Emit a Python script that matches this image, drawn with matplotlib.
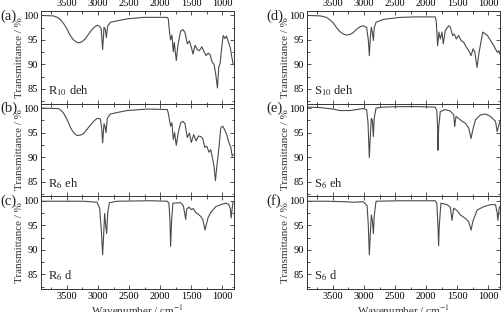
import matplotlib
matplotlib.use("Agg")
import matplotlib.pyplot as plt
from matplotlib.ticker import MultipleLocator

plt.rcParams['font.family'] = ['Liberation Serif', 'DejaVu Serif']
plt.rcParams['mathtext.fontset'] = 'stix'

# ---------------- data (wavenumber / cm-1, transmittance / %) ----------------
wn_a = [3914, 3715, 3650, 3608, 3550, 3500, 3450, 3400, 3350, 3312, 3260, 3204, 3150, 3097, 3050, 3005,
        2975, 2950, 2941, 2925, 2910, 2903, 2882, 2866, 2844, 2801, 2532, 2264, 1887, 1871, 1850, 1833,
        1812, 1790, 1774, 1742, 1715, 1672, 1635, 1602, 1565, 1532, 1500, 1473, 1441, 1403, 1371, 1333,
        1296, 1264, 1231, 1199, 1167, 1135, 1108, 1081, 1059, 1038, 1016, 989, 962, 936, 903, 876, 850, 828]
t_a = [100.0, 99.9, 99.6, 99.2, 98.3, 97.3, 96.0, 95.1, 94.6, 94.4, 94.6, 95.2, 96.2, 97.1, 97.7, 98.0,
       97.8, 97.3, 96.0, 93.0, 96.0, 97.6, 97.2, 95.5, 97.8, 98.6, 99.3, 99.6, 99.6, 99.3, 96.5, 95.0,
       96.0, 92.6, 94.5, 90.8, 94.0, 96.8, 97.1, 96.5, 94.2, 94.8, 93.5, 92.1, 93.9, 93.0, 92.8, 93.6,
       92.6, 91.8, 92.3, 92.0, 90.5, 90.0, 88.0, 85.2, 89.5, 90.2, 93.0, 95.9, 95.3, 95.8, 94.5, 93.5, 91.5, 90.0]

wn_b = [3914, 3634, 3600, 3554, 3510, 3473, 3440, 3403, 3360, 3328, 3280, 3231, 3180, 3124, 3070, 3016,
        2962, 2941, 2925, 2903, 2887, 2871, 2850, 2801, 2532, 2210, 1887, 1871, 1850, 1833, 1812, 1790,
        1769, 1742, 1710, 1672, 1635, 1602, 1565, 1532, 1500, 1462, 1425, 1387, 1349, 1317, 1285, 1253,
        1215, 1188, 1156, 1135, 1113, 1092, 1070, 1049, 1027, 995, 962, 930, 898, 866, 844, 828]
t_b = [100.0, 99.9, 99.6, 99.0, 98.0, 97.0, 96.0, 95.2, 94.6, 94.4, 94.5, 94.8, 95.6, 96.5, 97.3, 97.9,
       97.8, 96.0, 92.9, 96.8, 96.3, 95.0, 97.9, 98.8, 99.5, 99.8, 99.7, 99.0, 97.5, 96.3, 97.0, 93.6,
       95.0, 92.4, 95.0, 97.0, 97.3, 96.8, 94.0, 94.9, 93.0, 94.6, 93.3, 94.3, 94.2, 93.8, 92.0, 92.2,
       91.0, 91.5, 89.5, 88.0, 85.2, 88.0, 90.3, 93.0, 96.0, 96.3, 95.5, 94.5, 93.0, 92.0, 90.2, 90.5]

wn_c = [3914, 3231, 3016, 2973, 2946, 2925, 2909, 2893, 2877, 2860, 2844, 2817, 2694, 2156, 1887, 1860,
        1844, 1833, 1817, 1796, 1672, 1629, 1608, 1591, 1575, 1538, 1500, 1468, 1430, 1393, 1350, 1317,
        1296, 1280, 1258, 1231, 1188, 1108, 1027, 947, 903, 876, 860, 844, 828]
t_c = [99.9, 99.9, 99.7, 98.5, 94.0, 89.0, 93.0, 97.4, 95.0, 93.3, 97.5, 99.6, 99.9, 100.0, 99.9, 99.5,
       96.0, 90.7, 96.0, 99.5, 99.6, 99.0, 97.5, 96.2, 98.3, 98.7, 98.2, 98.4, 97.6, 97.3, 96.8, 96.2,
       95.0, 94.0, 95.2, 96.6, 97.6, 98.8, 99.2, 99.5, 99.3, 98.5, 96.5, 98.5, 99.8]

wn_d = [3914, 3700, 3602, 3550, 3495, 3440, 3387, 3330, 3280, 3226, 3172, 3118, 3060, 3011, 2957, 2930,
        2914, 2895, 2882, 2865, 2849, 2835, 2806, 2688, 2419, 2151, 1855, 1839, 1817, 1796, 1774, 1747,
        1726, 1694, 1640, 1613, 1575, 1549, 1516, 1479, 1441, 1398, 1355, 1317, 1280, 1247, 1221, 1183,
        1156, 1129, 1092, 1049, 1011, 968, 914, 860, 834, 815]
t_d = [100.0, 99.9, 99.6, 99.1, 98.5, 97.5, 96.7, 96.2, 96.0, 96.1, 96.5, 97.2, 97.7, 97.9, 97.5, 95.0,
       91.8, 96.0, 97.6, 96.5, 94.9, 97.5, 98.6, 99.2, 99.6, 99.7, 99.7, 98.8, 93.8, 96.6, 95.2, 96.6,
       94.2, 96.9, 97.9, 97.6, 95.9, 96.2, 95.2, 95.9, 94.9, 94.5, 93.5, 92.8, 91.8, 93.2, 92.6, 89.4,
       92.1, 94.0, 96.6, 96.2, 95.8, 94.9, 93.8, 92.5, 92.8, 92.1]

wn_e = [3914, 3700, 3500, 3387, 3226, 3118, 3011, 2957, 2935, 2914, 2895, 2882, 2865, 2849, 2835, 2806,
        2688, 2419, 2151, 1855, 1830, 1817, 1812, 1800, 1774, 1694, 1613, 1559, 1543, 1522, 1479, 1425,
        1371, 1317, 1280, 1253, 1210, 1129, 1049, 968, 887, 860, 834, 815]
t_e = [100.2, 100.1, 99.8, 99.5, 99.5, 99.7, 99.9, 99.7, 97.0, 89.9, 95.0, 97.9, 97.5, 94.2, 98.0, 100.0,
       100.2, 100.3, 100.3, 100.2, 99.5, 96.0, 91.4, 96.0, 99.3, 99.7, 99.4, 98.6, 96.2, 98.3, 97.9, 97.3,
       96.9, 95.9, 93.8, 95.5, 97.6, 98.6, 98.8, 98.3, 97.3, 95.2, 96.5, 97.3]

wn_f = [3914, 3600, 3300, 3172, 3011, 2950, 2930, 2914, 2895, 2882, 2865, 2849, 2835, 2806, 2419, 1855,
        1830, 1812, 1801, 1790, 1764, 1667, 1613, 1586, 1559, 1505, 1452, 1371, 1317, 1280, 1253, 1183,
        1075, 968, 887, 860, 850, 828, 815]
t_f = [99.9, 99.9, 99.8, 99.7, 99.8, 99.0, 95.0, 89.0, 94.0, 97.1, 96.0, 93.3, 97.0, 99.9, 100.0, 100.0,
       99.5, 95.0, 90.8, 95.0, 99.5, 99.2, 98.7, 96.0, 98.5, 98.0, 97.1, 96.4, 95.7, 94.0, 95.7, 98.1,
       98.8, 99.2, 99.2, 97.5, 96.0, 98.5, 98.8]

panel_letters = ['(a)', '(b)', '(c)', '(d)', '(e)', '(f)']
sample_names = [r'R$_{10}$ deh', r'R$_{6}$ eh', r'R$_{6}$ d',
                r'S$_{10}$ deh', r'S$_{6}$ eh', r'S$_{6}$ d']
x_ticks = [3500, 3000, 2500, 2000, 1500, 1000]
y_ticks = [85, 90, 95, 100]

series = [(wn_a, t_a), (wn_b, t_b), (wn_c, t_c), (wn_d, t_d), (wn_e, t_e), (wn_f, t_f)]

# ---------------- figure ----------------
W, H = 503, 312
fig = plt.figure(figsize=(W / 100, H / 100), dpi=100)

col_left = [41, 307]
col_width = 193
top_px, bot_px = 11, 289
ph = (bot_px - top_px) / 3

line_color = '#4a4a4a'
for i, (wn, t) in enumerate(series):
    col = i // 3
    row = i % 3
    x0 = col_left[col] / W
    y0 = 1 - (top_px + (row + 1) * ph) / H
    ax = fig.add_axes([x0, y0, col_width / W, ph / H])
    ax.plot(wn, t, color=line_color, lw=0.8)
    ax.set_xlim(3915, 815)
    ax.set_ylim(82.0, 100.9)
    ax.set_xticks(x_ticks)
    ax.xaxis.set_minor_locator(MultipleLocator(250))
    ax.set_yticks(y_ticks)
    ax.yaxis.set_minor_locator(MultipleLocator(2.5))
    ax.tick_params(which='both', direction='in', top=True, right=True,
                   labelsize=7.5, pad=2, width=0.6, color='#333333')
    ax.tick_params(which='major', length=3)
    ax.tick_params(which='minor', length=1.8)
    ax.tick_params(axis='x', labelbottom=(row == 2), labeltop=(row == 0))
    for s in ax.spines.values():
        s.set_linewidth(0.7)
        s.set_color('#333333')
    ax.set_ylabel('Transmittance / %', fontsize=8, color='#333333')
    ax.yaxis.set_label_coords(-0.09, 0.5)
    if row == 2:
        ax.set_xlabel(r'Wavenumber / cm$^{-1}$', fontsize=8, labelpad=2, color='#333333')
    ax.text(0.035, 0.14, sample_names[i], transform=ax.transAxes, fontsize=9,
            color='#222222', va='center', ha='left')
    fig.text((col_left[col] - 41) / W, 1 - (top_px + row * ph + 5) / H,
             panel_letters[i], fontsize=10.5, color='#222222', ha='left', va='center')

fig.savefig('out.png', dpi=100)
